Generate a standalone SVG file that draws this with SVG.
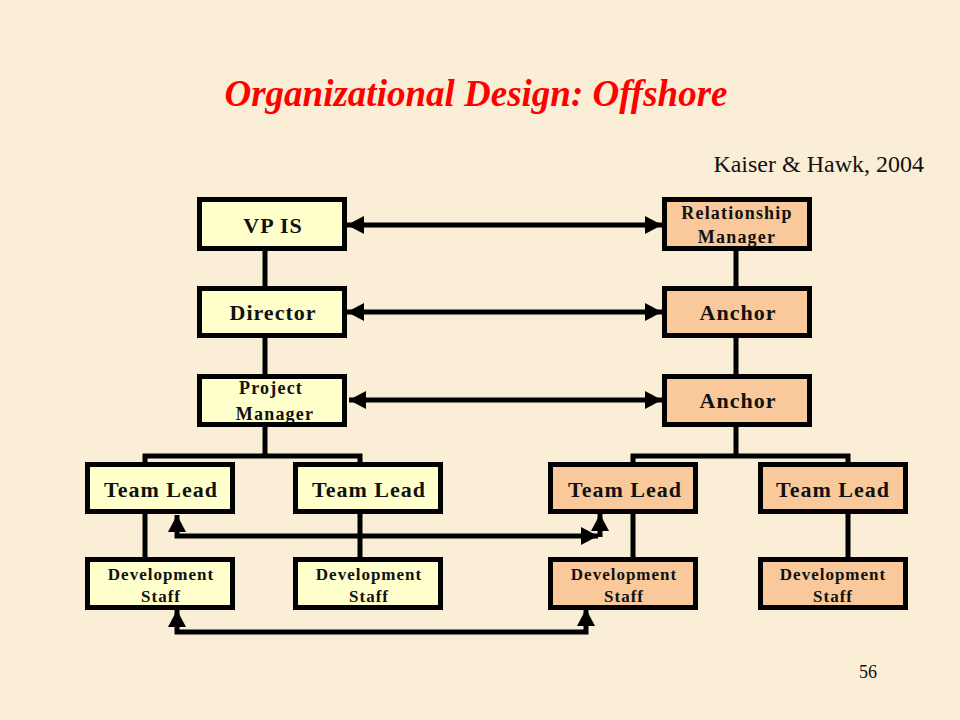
<svg xmlns="http://www.w3.org/2000/svg" width="960" height="720" viewBox="0 0 960 720">
<style>
.bg{fill:#FAEFD6}
.box{stroke:#000;stroke-width:5}
.y{fill:#FFFFCC}
.o{fill:#F9C99B}
.lbl{font-family:"Liberation Serif","Times New Roman",serif;font-weight:bold;fill:#111;text-anchor:middle}
.l20{font-size:22px;letter-spacing:1px}
.l16{font-size:18px;letter-spacing:1.2px}
.l15{font-size:17px;letter-spacing:1px}
.conn{fill:none;stroke:#000;stroke-width:5}
</style>
<defs>
<marker id="ah" markerUnits="userSpaceOnUse" markerWidth="18" markerHeight="18" refX="17" refY="9" orient="auto-start-reverse">
<path d="M0,0 L17,9 L0,18 z" fill="#000"/>
</marker>
</defs>
<rect class="bg" x="0" y="0" width="960" height="720"/>
<text x="476" y="106" font-family="Liberation Serif,Times New Roman,serif" font-size="37" font-weight="bold" font-style="italic" fill="#FF0000" text-anchor="middle">Organizational Design: Offshore</text>
<text x="924" y="172" font-family="Liberation Serif,Times New Roman,serif" font-size="24" fill="#111" text-anchor="end">Kaiser &amp; Hawk, 2004</text>
<text x="868" y="678" font-family="Liberation Serif,Times New Roman,serif" font-size="18" fill="#111" text-anchor="middle">56</text>

<g id="connectors">
<path class="conn" d="M265,250 V288 M265,336 V375 M265,425 V456 M145,463 V456 H360 V463 M145,513 V559 M360,513 V559"/>
<path class="conn" d="M736,250 V288 M736,336 V375 M736,425 V456 M633,463 V456 H848 V463 M633,513 V559 M848,513 V559"/>
<path class="conn" d="M347,225 H662" marker-start="url(#ah)" marker-end="url(#ah)"/>
<path class="conn" d="M347,312 H662" marker-start="url(#ah)" marker-end="url(#ah)"/>
<path class="conn" d="M349,400 H662" marker-start="url(#ah)" marker-end="url(#ah)"/>
<path class="conn" d="M177,515 V536 H598" marker-start="url(#ah)" marker-end="url(#ah)"/>
<path class="conn" d="M600,537 V514" marker-end="url(#ah)"/>
<path class="conn" d="M177,610 V632 H586 V609" marker-start="url(#ah)" marker-end="url(#ah)"/>
</g>

<g id="vpis"><rect class="box y" x="199.5" y="199.5" width="145" height="49"/><text class="lbl l20" x="273" y="233">VP IS</text></g>
<g id="director"><rect class="box y" x="199.5" y="288.5" width="145" height="47"/><text class="lbl l20" x="273" y="320">Director</text></g>
<g id="pm"><rect class="y" x="199.5" y="376.5" width="145" height="48"/><text class="lbl l16" x="271" y="394">Project</text><text class="lbl l16" x="275" y="420">Manager</text><rect class="box" fill="none" x="199.5" y="376.5" width="145" height="48"/></g>

<g id="relmgr"><rect class="o" x="664.5" y="199.5" width="145" height="49"/><text class="lbl l16" x="737" y="219">Relationship</text><text class="lbl l16" x="737" y="243">Manager</text><rect class="box" fill="none" x="664.5" y="199.5" width="145" height="49"/></g>
<g id="anchor1"><rect class="box o" x="664.5" y="288.5" width="145" height="47"/><text class="lbl l20" x="738" y="320">Anchor</text></g>
<g id="anchor2"><rect class="box o" x="664.5" y="376.5" width="145" height="48"/><text class="lbl l20" x="738" y="408">Anchor</text></g>

<g id="tl1"><rect class="box y" x="87.5" y="464.5" width="145" height="47"/><text class="lbl l20" x="161" y="497">Team Lead</text></g>
<g id="tl2"><rect class="box y" x="295.5" y="464.5" width="145" height="47"/><text class="lbl l20" x="369" y="497">Team Lead</text></g>
<g id="tl3"><rect class="box o" x="550.5" y="464.5" width="145" height="47"/><text class="lbl l20" x="625" y="497">Team Lead</text></g>
<g id="tl4"><rect class="box o" x="760.5" y="464.5" width="145" height="47"/><text class="lbl l20" x="833" y="497">Team Lead</text></g>

<g id="dev1"><rect class="box y" x="87.5" y="559.5" width="145" height="48"/><text class="lbl l15" x="161" y="580">Development</text><text class="lbl l15" x="161" y="602">Staff</text></g>
<g id="dev2"><rect class="box y" x="295.5" y="559.5" width="145" height="48"/><text class="lbl l15" x="369" y="580">Development</text><text class="lbl l15" x="369" y="602">Staff</text></g>
<g id="dev3"><rect class="box o" x="550.5" y="559.5" width="145" height="48"/><text class="lbl l15" x="624" y="580">Development</text><text class="lbl l15" x="624" y="602">Staff</text></g>
<g id="dev4"><rect class="box o" x="760.5" y="559.5" width="145" height="48"/><text class="lbl l15" x="833" y="580">Development</text><text class="lbl l15" x="833" y="602">Staff</text></g>
</svg>
